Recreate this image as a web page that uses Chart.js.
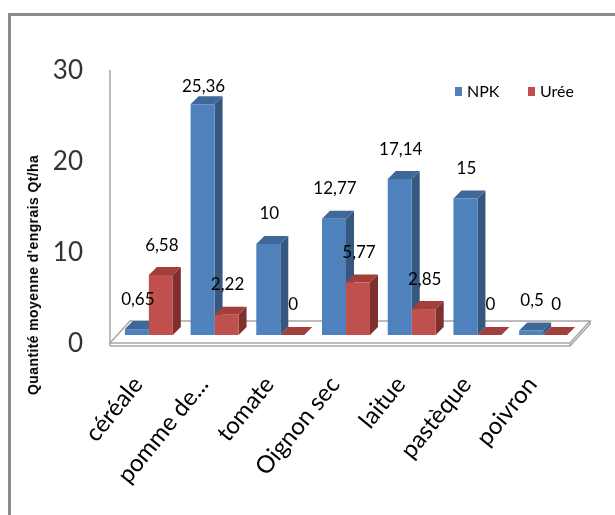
<!DOCTYPE html>
<html>
<head>
<meta charset="utf-8">
<script src="https://cdn.jsdelivr.net/npm/chart.js@4.4.0/dist/chart.umd.min.js"></script>
<style>
  body { margin: 0; background: #fff; }
  #wrap { position: relative; width: 615px; height: 515px; overflow: hidden; }
  #frame { position: absolute; left: 8px; top: 13px; width: 660px; height: 560px; border: 3px solid #8c8c8c; }
  #chartCanvas { position: absolute; left: 0; top: 0; }
  #yTitle {
    position: absolute; left: 33px; top: 275px;
    transform: translate(-50%, -50%) rotate(-90deg);
    white-space: nowrap; font: bold 14px 'Liberation Sans', Arial, sans-serif;
    letter-spacing: 0.4px; color: #000;
  }
</style>
</head>
<body>
<div id="wrap">
  <div id="frame"></div>
  <canvas id="chartCanvas" width="615" height="515"></canvas>
  <div id="yTitle">Quantité moyenne d'engrais Qt/ha</div>
</div>
<script>
// Chart data
const categories = ['céréale', 'pomme de...', 'tomate', 'Oignon sec', 'laitue', 'pastèque', 'poivron'];
const npkValues = [0.65, 25.36, 10, 12.77, 17.14, 15, 0.5];
const ureeValues = [6.58, 2.22, 0, 5.77, 2.85, 0, 0];
const yTicks = [0, 10, 20, 30];

// Face colours for the fake 3D bars (front, side, top)
const frontColors = ['#4f81bd', '#c0504d'];
const sideColors = ['#34587f', '#7f302e'];
const topColors = ['#3f6797', '#a13f3c'];
const DX = 8, DY = 8; // depth of the bars

// Draws the floor, the wall line and the side/top faces before the fronts
const fake3d = {
    id: 'fake3d',
    beforeDatasetsDraw(chart) {
        const ctx = chart.ctx;
        const area = chart.chartArea;
        const base = chart.scales.y.getPixelForValue(0);
        ctx.save();
        // floor slab
        const fl = area.left - 6, fr = area.right - 6, fy = base + 8;
        const bl = area.left + 14, br = area.right + 14, by = base - 14;
        ctx.strokeStyle = '#a6a6a6';
        ctx.lineWidth = 1.5;
        ctx.fillStyle = '#ffffff';
        ctx.beginPath();
        ctx.moveTo(fl, fy); ctx.lineTo(fr, fy); ctx.lineTo(br, by); ctx.lineTo(bl, by); ctx.closePath();
        ctx.fill(); ctx.stroke();
        ctx.beginPath();
        ctx.moveTo(fl, fy + 3); ctx.lineTo(fr, fy + 3); ctx.lineTo(br, by + 3); ctx.lineTo(br, by);
        ctx.moveTo(fr, fy); ctx.lineTo(fr, fy + 3);
        ctx.moveTo(fl, fy); ctx.lineTo(fl, fy + 3);
        ctx.stroke();
        // wall line
        ctx.beginPath();
        ctx.moveTo(area.left - 6, area.top + 8);
        ctx.lineTo(area.left - 6, fy);
        ctx.stroke();
        // side and top faces, dataset by dataset per category
        for (let c = 0; c < categories.length; c++) {
            chart.data.datasets.forEach((ds, i) => {
                const bar = chart.getDatasetMeta(i).data[c];
                const p = bar.getProps(['x', 'y', 'base', 'width'], true);
                const l = p.x - p.width / 2, r = p.x + p.width / 2;
                ctx.fillStyle = sideColors[i];
                ctx.beginPath();
                ctx.moveTo(r, p.base); ctx.lineTo(r + DX, p.base - DY);
                ctx.lineTo(r + DX, p.y - DY); ctx.lineTo(r, p.y);
                ctx.closePath(); ctx.fill();
                ctx.fillStyle = topColors[i];
                ctx.beginPath();
                ctx.moveTo(l, p.y); ctx.lineTo(l + DX, p.y - DY);
                ctx.lineTo(r + DX, p.y - DY); ctx.lineTo(r, p.y);
                ctx.closePath(); ctx.fill();
            });
        }
        ctx.restore();
    },
    afterDatasetsDraw(chart) {
        // value labels with a decimal comma
        const ctx = chart.ctx;
        const area = chart.chartArea;
        ctx.save();
        ctx.font = '17px Lato';
        ctx.fillStyle = '#000';
        ctx.textAlign = 'center';
        ctx.textBaseline = 'middle';
        chart.data.datasets.forEach((ds, i) => {
            chart.getDatasetMeta(i).data.forEach((bar, j) => {
                const txt = String(ds.data[j]).replace('.', ',');
                ctx.fillText(txt, bar.x + 1, Math.max(bar.y - 30, area.top + 25));
            });
        });
        ctx.restore();
    },
    afterDraw(chart) {
        // legend in the top right of the plot
        const ctx = chart.ctx;
        ctx.save();
        ctx.font = '16px Lato';
        ctx.textBaseline = 'middle';
        const starts = [455, 528];
        chart.data.datasets.forEach((ds, i) => {
            ctx.fillStyle = frontColors[i];
            ctx.fillRect(starts[i], 87, 7, 9);
            ctx.fillStyle = '#000';
            ctx.fillText(ds.label, starts[i] + 12, 92);
        });
        ctx.restore();
    }
};

var ctx = document.getElementById('chartCanvas').getContext('2d');
var chart = new Chart(ctx, {
    type: 'bar',
    data: {
        labels: categories,
        datasets: [
            { label: 'NPK', data: npkValues, backgroundColor: frontColors[0] },
            { label: 'Urée', data: ureeValues, backgroundColor: frontColors[1] }
        ]
    },
    options: {
        responsive: false,
        animation: false,
        layout: { padding: { left: 0, right: 39, top: 62, bottom: 0 } },
        datasets: { bar: { categoryPercentage: 0.73, barPercentage: 1 } },
        plugins: { legend: { display: false }, tooltip: { enabled: false } },
        scales: {
            x: {
                grid: { display: false },
                border: { display: false },
                ticks: {
                    autoSkip: false, minRotation: 51, maxRotation: 51,
                    padding: 28, labelOffset: -11, color: '#000', font: { family: 'Lato', size: 24 }
                },
                afterFit: function(scale) { scale.height = 180; }
            },
            y: {
                min: 0, max: 30,
                grid: { display: false },
                border: { display: false },
                afterBuildTicks: function(scale) { scale.ticks = yTicks.map(v => ({ value: v })); },
                ticks: {
                    padding: 25, labelOffset: 9, color: '#333',
                    font: { family: 'Lato', size: 26 }
                },
                afterFit: function(scale) { scale.width = 116; }
            }
        }
    },
    plugins: [fake3d]
});
</script>
</body>
</html>
